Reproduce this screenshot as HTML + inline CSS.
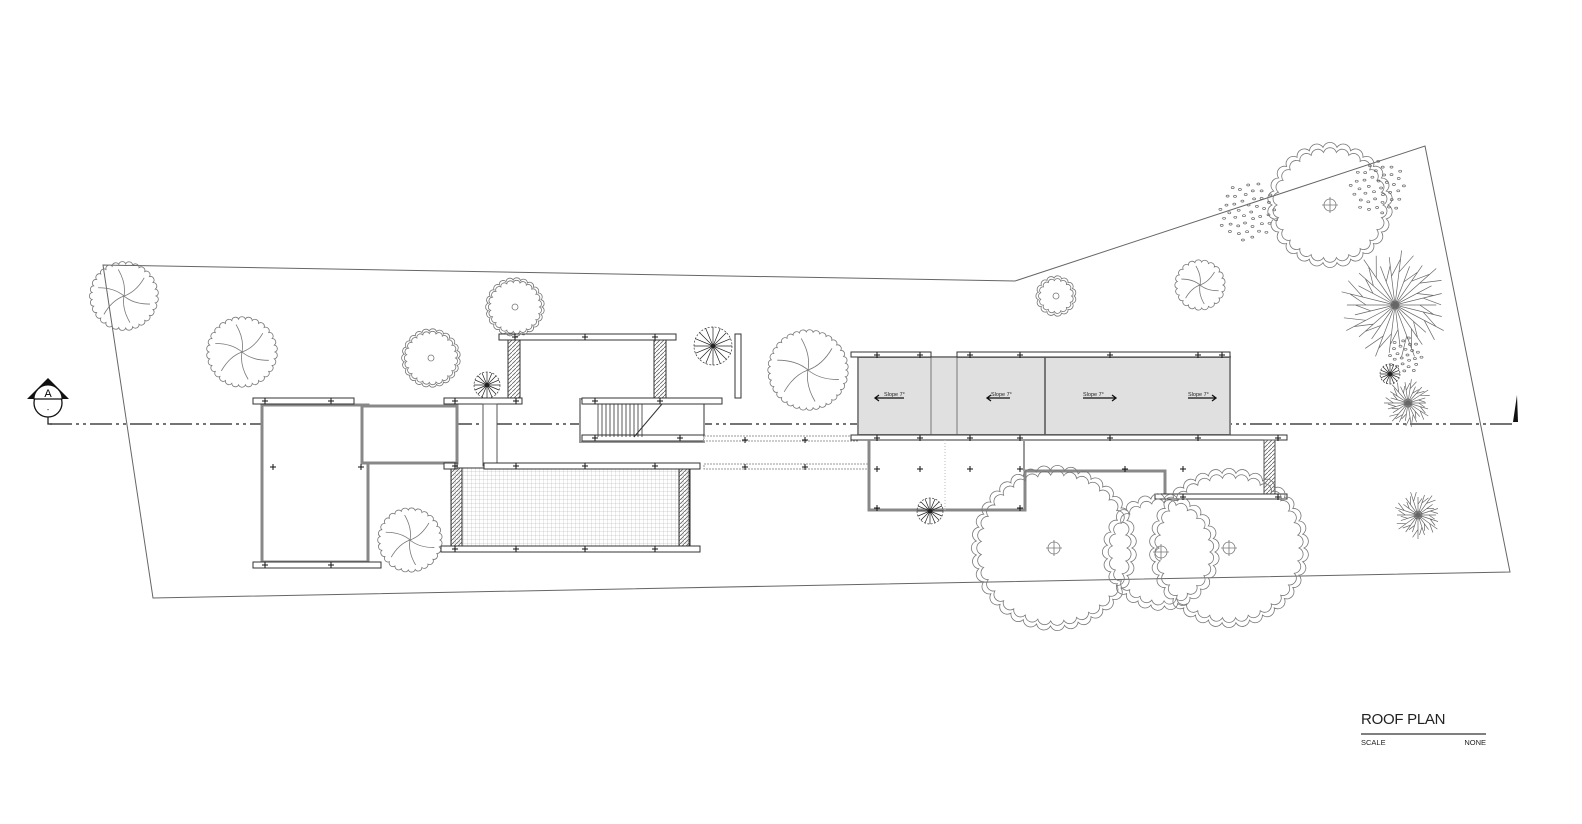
<!DOCTYPE html>
<html><head><meta charset="utf-8"><style>
html,body{margin:0;padding:0;background:#fff;}
svg{display:block;font-family:"Liberation Sans",sans-serif;}
</style></head><body>
<svg id="s" width="1582" height="824" viewBox="0 0 1582 824" xmlns="http://www.w3.org/2000/svg">
<defs>
<pattern id="grid" width="4" height="4" patternUnits="userSpaceOnUse"><path d="M4 0V4H0" fill="none" stroke="#aaa" stroke-width="0.5"/></pattern>
<pattern id="hatch" width="4" height="4" patternUnits="userSpaceOnUse"><path d="M0 4L4 0" stroke="#666" stroke-width="0.8"/></pattern>
<pattern id="roof" width="4" height="2" patternUnits="userSpaceOnUse"><rect width="4" height="2" fill="#e4e4e4"/><path d="M0 1H4" stroke="#d4d4d4" stroke-width="0.5"/></pattern>
</defs>
<polygon points="103,265 1015,281 1425,146 1510,572 153,598" fill="none" stroke="#666" stroke-width="1"/>
<line x1="50" y1="424" x2="1515" y2="424" stroke="#222" stroke-width="1.3" stroke-dasharray="22 4 3 4 3 4"/>
<path d="M48 410 V424 H52" fill="none" stroke="#222" stroke-width="1.3"/>
<circle cx="48" cy="403" r="14" fill="#fff" stroke="#111" stroke-width="1.3"/>
<path d="M27 399 L48 378 L69 399 Z" fill="#111"/>
<path d="M34 399 A14 14 0 0 1 62 399 Z" fill="#fff" stroke="#111"/>
<line x1="34" y1="399" x2="62" y2="399" stroke="#111" stroke-width="1.2"/>
<text x="48" y="397" font-size="11" text-anchor="middle">A</text>
<text x="48" y="412" font-size="7" text-anchor="middle">-</text>
<path d="M1513 422 L1517 395 L1518 422 Z" fill="#111"/>

<g fill="#fff" stroke="#333" stroke-width="1">
<rect x="262" y="405" width="106" height="157" stroke="#888" stroke-width="3"/>
<rect x="362" y="406" width="95" height="57" stroke="#888" stroke-width="3"/>
<rect x="253" y="398" width="101" height="6"/>
<rect x="253" y="562" width="128" height="6"/>
<rect x="508" y="340" width="12" height="60" fill="url(#hatch)"/>
<rect x="654" y="340" width="12" height="60" fill="url(#hatch)"/>
<rect x="499" y="334" width="177" height="6"/>
<rect x="444" y="398" width="78" height="6"/>
<rect x="483" y="404" width="14" height="62" stroke="#555"/>
<rect x="451" y="468" width="238" height="78" fill="url(#grid)"/>
<rect x="451" y="468" width="11" height="78" fill="url(#hatch)"/>
<rect x="679" y="468" width="11" height="78" fill="url(#hatch)"/>
<rect x="444" y="463" width="13" height="6"/>
<rect x="484" y="463" width="216" height="6"/>
<rect x="441" y="546" width="259" height="6"/>
<rect x="580" y="399" width="124" height="43" stroke="#999" stroke-width="2"/>
<rect x="582" y="398" width="140" height="6"/>
<rect x="582" y="435" width="122" height="6"/>
<path d="M598 404V437M602 404V437M606 404V437M610 404V437M614 404V437M618 404V437M622 404V437M626 404V437M630 404V437M634 404V437M638 404V437M642 404V437" stroke="#333" stroke-width="0.8"/>
<line x1="634" y1="437" x2="662" y2="404" stroke="#333"/>
<rect x="735" y="334" width="6" height="64"/>
<rect x="704" y="436" width="154" height="5" stroke="#999" stroke-dasharray="2 1"/>
<rect x="704" y="464" width="166" height="5" stroke="#999" stroke-dasharray="2 1"/>
<rect x="858" y="357" width="372" height="78" fill="url(#roof)" stroke="#888" stroke-width="2"/>
<line x1="931" y1="357" x2="931" y2="435" stroke="#777"/>
<line x1="957" y1="357" x2="957" y2="435" stroke="#777"/>
<line x1="1045" y1="357" x2="1045" y2="435" stroke="#777" stroke-width="2"/>
<rect x="851" y="352" width="80" height="5"/>
<rect x="957" y="352" width="273" height="5"/>
<rect x="851" y="435" width="436" height="5"/>
<path d="M869 440 V510 H1025 V471 H1165 V494" fill="none" stroke="#888" stroke-width="3"/>
<line x1="1024" y1="440" x2="1024" y2="471" stroke="#999" stroke-width="2"/>
<line x1="945" y1="440" x2="945" y2="510" stroke="#bbb" stroke-dasharray="1 2"/>
<rect x="1264" y="440" width="11" height="54" fill="url(#hatch)" stroke="#555"/>
<rect x="1155" y="494" width="132" height="5"/>
</g>
<g font-size="5.5" fill="#222">
<text x="884" y="396">Slope 7°</text><text x="991" y="396">Slope 7°</text><text x="1083" y="396">Slope 7°</text><text x="1188" y="396">Slope 7°</text>
</g>
<g fill="none" stroke="#111" stroke-width="1.3">
<path d="M879 401 L875 398 L879 395 M875 398 H904"/><path d="M991 401 L987 398 L991 395 M987 398 H1010"/>
<path d="M1112 395 L1116 398 L1112 401 M1083 398 H1116"/><path d="M1212 395 L1216 398 L1212 401 M1188 398 H1216"/>
</g>
<g stroke="#111" stroke-width="1" id="plus"></g>
<g id="trees" fill="none" stroke="#777" stroke-width="0.8"></g>
<g fill="none" stroke="#666" stroke-width="0.7" id="stars"></g>
<text x="1361" y="724" font-size="15" fill="#222" letter-spacing="0.5" textLength="85">ROOF PLAN</text>
<line x1="1361" y1="734" x2="1486" y2="734" stroke="#333" stroke-width="1.2"/>
<text x="1361" y="745" font-size="7.5" fill="#222">SCALE</text>
<text x="1486" y="745" font-size="7.5" fill="#222" text-anchor="end">NONE</text>
</svg>
<script>
var NS="http://www.w3.org/2000/svg";
function el(p,t,a){var e=document.createElementNS(NS,t);for(var k in a)e.setAttribute(k,a[k]);p.appendChild(e);return e;}
var T=document.getElementById('trees'),S=document.getElementById('stars'),P=document.getElementById('plus');
function scallop(cx,cy,r,n){var d="";for(var i=0;i<n;i++){var a0=2*Math.PI*i/n,a1=2*Math.PI*(i+1)/n;var x0=cx+r*Math.cos(a0),y0=cy+r*Math.sin(a0),x1=cx+r*Math.cos(a1),y1=cy+r*Math.sin(a1);var br=r*Math.PI/n*1.05;d+=(i?"":"M"+x0.toFixed(1)+" "+y0.toFixed(1))+"A"+br.toFixed(1)+" "+br.toFixed(1)+" 0 0 1 "+x1.toFixed(1)+" "+y1.toFixed(1);}el(T,'path',{d:d+"Z"});}
function big(cx,cy,r){scallop(cx,cy,r,Math.round(r/2.2));scallop(cx,cy,r-5,Math.round(r/2.2));el(T,'circle',{cx:cx,cy:cy,r:6});el(T,'path',{d:"M"+(cx-8)+" "+cy+"H"+(cx+8)+"M"+cx+" "+(cy-8)+"V"+(cy+8)});}
big(1054,548,78);big(1161,552,54);big(1229,548,75);big(1330,205,58);
function small(cx,cy,r){scallop(cx,cy,r,Math.round(r/1.2));scallop(cx,cy,r-2.5,Math.round(r/1.2));el(T,'circle',{cx:cx,cy:cy,r:3});}
small(515,307,27);small(431,358,27);small(1056,296,18);
function branchy(cx,cy,r){scallop(cx,cy,r,Math.round(r/1.1));var d="";for(var i=0;i<6;i++){var a=i*1.05+0.3;d+="M"+cx+" "+cy+"Q"+(cx+r*0.4*Math.cos(a+0.4))+" "+(cy+r*0.4*Math.sin(a+0.4))+" "+(cx+r*0.85*Math.cos(a))+" "+(cy+r*0.85*Math.sin(a));}el(T,'path',{d:d});}
branchy(124,296,32);branchy(242,352,33);branchy(410,540,30);branchy(808,370,38);branchy(1200,285,23);
function star(cx,cy,r,n){var d="";for(var i=0;i<n;i++){var a=2*Math.PI*i/n;var rr=r*(0.75+0.25*((i*7)%3)/2);d+="M"+cx+" "+cy+"L"+(cx+rr*Math.cos(a)).toFixed(1)+" "+(cy+rr*Math.sin(a)).toFixed(1);var ax=cx+rr*0.6*Math.cos(a),ay=cy+rr*0.6*Math.sin(a);d+="M"+ax.toFixed(1)+" "+ay.toFixed(1)+"L"+(ax+rr*0.4*Math.cos(a+0.6)).toFixed(1)+" "+(ay+rr*0.4*Math.sin(a+0.6)).toFixed(1);}el(S,'path',{d:d});el(S,'circle',{cx:cx,cy:cy,r:4});}
star(1395,305,55,26);star(1408,403,24,22);star(1418,515,24,20);
function dark(cx,cy,r){var d="";for(var i=0;i<16;i++){var a=2*Math.PI*i/16;d+="M"+cx+" "+cy+"L"+(cx+r*Math.cos(a)).toFixed(1)+" "+(cy+r*Math.sin(a)).toFixed(1);}el(S,'path',{d:d,stroke:"#222"});el(S,'circle',{cx:cx,cy:cy,r:r,stroke:"#333","stroke-dasharray":"2 1.5"});}
dark(487,385,13);dark(713,346,19);dark(930,511,13);dark(1390,374,10);
function dots(cx,cy,r,n){for(var i=0;i<n;i++){var a=i*2.4,rr=r*Math.sqrt((i+0.5)/n);el(S,'ellipse',{cx:(cx+rr*Math.cos(a)).toFixed(1),cy:(cy+rr*Math.sin(a)).toFixed(1),rx:1.5,ry:1});}}
dots(1248,212,30,45);dots(1378,188,28,40);dots(1405,355,18,25);
var pl=[[265,401],[331,401],[265,565],[331,565],[273,467],[361,467],[455,401],[516,401],[515,337],[585,337],[655,337],[455,466],[516,466],[585,466],[655,466],[455,549],[516,549],[585,549],[655,549],[595,401],[660,401],[595,438],[680,438],[745,440],[805,440],[745,467],[805,467],[877,355],[920,355],[970,355],[1020,355],[1110,355],[1198,355],[1222,355],[877,438],[920,438],[970,438],[1020,438],[1110,438],[1198,438],[1278,438],[877,469],[920,469],[970,469],[1020,469],[1125,469],[1183,469],[877,508],[1020,508],[1183,497],[1278,497]];
pl.forEach(function(p){el(P,'path',{d:"M"+(p[0]-3)+" "+p[1]+"H"+(p[0]+3)+"M"+p[0]+" "+(p[1]-3)+"V"+(p[1]+3)});});
</script>
</body></html>
